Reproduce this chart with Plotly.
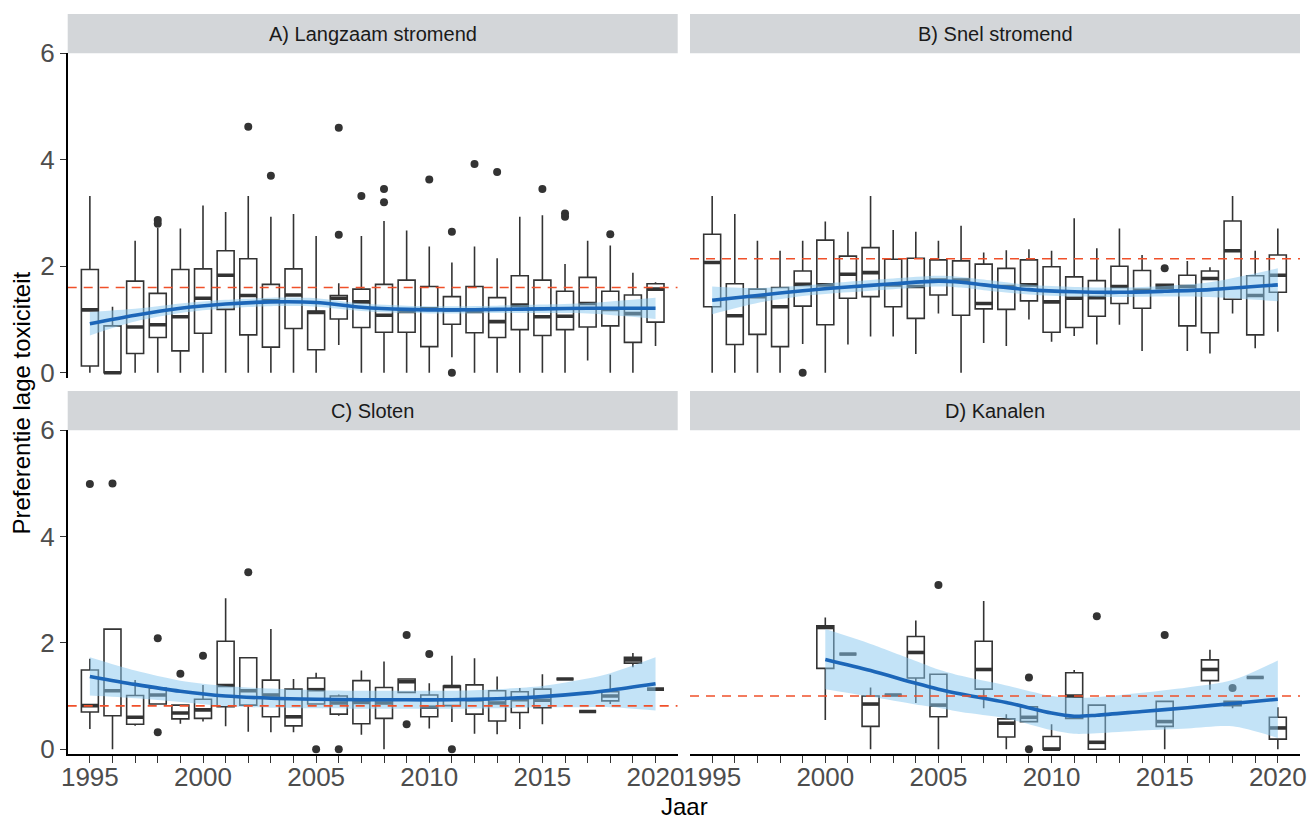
import plotly.graph_objects as go

# ---------------- data ----------------
years_all = list(range(1995, 2021))

# Panel A) Langzaam stromend
A_years = years_all
A_q1 = [0.125, 0.0, 0.36, 0.66, 0.41, 0.74, 1.19, 0.71, 0.48, 0.83, 0.43, 1.01, 0.85, 0.76, 0.76, 0.49, 0.91, 0.75, 0.66, 0.81, 0.70, 0.81, 0.86, 0.88, 0.57, 0.95]
A_med = [1.18, 0.0, 0.86, 0.90, 1.05, 1.40, 1.83, 1.45, 1.35, 1.46, 1.13, 1.40, 1.33, 1.08, 1.15, 1.20, 1.18, 1.15, 0.96, 1.27, 1.05, 1.06, 1.30, 1.19, 1.11, 1.57]
A_q3 = [1.94, 0.88, 1.72, 1.49, 1.94, 1.95, 2.29, 2.14, 1.66, 1.95, 1.16, 1.45, 1.57, 1.66, 1.74, 1.62, 1.43, 1.62, 1.41, 1.82, 1.74, 1.53, 1.79, 1.53, 1.46, 1.67]
A_lo = [0, 0, 0, 0, 0, 0, 0, 0, 0, 0, 0, 0.52, 0, 0, 0, 0, 0.29, 0, 0, 0, 0, 0, 0.23, 0, 0, 0.50]
A_hi = [3.32, 1.24, 2.48, 2.72, 2.71, 3.14, 3.02, 3.32, 2.93, 2.98, 2.57, 1.68, 2.57, 2.85, 2.67, 2.37, 2.07, 2.37, 2.15, 2.93, 2.96, 2.04, 2.48, 2.39, 1.88, 1.70]
A_out_x = [1998, 1998, 2002, 2003, 2006, 2006, 2007, 2008, 2008, 2010, 2011, 2011, 2012, 2013, 2015, 2016, 2016, 2018]
A_out_y = [2.87, 2.80, 4.62, 3.70, 4.60, 2.59, 3.32, 3.45, 3.20, 3.63, 2.65, 0.0, 3.92, 3.77, 3.45, 2.99, 2.93, 2.60]
A_sm_x = [1995, 1997, 1999, 2001, 2003, 2005, 2007, 2009, 2011, 2013, 2015, 2017, 2020]
A_sm_fit = [0.92, 1.08, 1.21, 1.29, 1.33, 1.32, 1.23, 1.19, 1.18, 1.19, 1.20, 1.21, 1.21]
A_sm_lo = [0.70, 0.96, 1.12, 1.21, 1.25, 1.24, 1.16, 1.12, 1.11, 1.12, 1.12, 1.11, 1.01]
A_sm_hi = [1.14, 1.20, 1.30, 1.37, 1.41, 1.40, 1.30, 1.26, 1.25, 1.26, 1.28, 1.31, 1.41]
A_ref = 1.60

# Panel B) Snel stromend
B_years = years_all
B_q1 = [1.24, 0.53, 0.72, 0.49, 1.25, 0.90, 1.40, 1.43, 1.24, 1.02, 1.46, 1.08, 1.20, 1.19, 1.35, 0.76, 0.85, 1.06, 1.30, 1.21, 1.58, 0.88, 0.75, 1.38, 0.71, 1.51]
B_med = [2.07, 1.07, 1.43, 1.24, 1.66, 1.65, 1.85, 1.88, 1.65, 1.62, 1.74, 1.74, 1.30, 1.62, 1.65, 1.33, 1.40, 1.41, 1.62, 1.55, 1.62, 1.62, 1.77, 2.29, 1.45, 1.83]
B_q3 = [2.60, 1.67, 1.57, 1.60, 1.91, 2.49, 2.19, 2.35, 2.13, 2.15, 2.12, 2.10, 2.04, 1.96, 2.12, 1.99, 1.80, 1.73, 2.00, 1.92, 1.66, 1.83, 1.91, 2.85, 1.82, 2.21]
B_lo = [0, 0, 0, 0, 0.54, 0, 0.53, 0.68, 0.68, 0.35, 1.11, 0, 0.56, 0.50, 1.0, 0.58, 0.69, 0.53, 0.90, 0.41, 1.58, 0.41, 0.36, 1.11, 0.46, 0.77]
B_hi = [3.32, 2.98, 2.48, 2.29, 2.48, 2.84, 2.65, 3.32, 2.68, 2.65, 2.48, 2.76, 2.26, 2.30, 2.32, 2.29, 2.90, 2.34, 2.71, 2.21, 1.66, 2.10, 1.98, 3.32, 2.29, 2.71]
B_out_x = [1999, 2015]
B_out_y = [0.0, 1.96]
B_sm_x = [1995, 1997, 1999, 2001, 2003, 2005, 2006, 2007, 2009, 2011, 2013, 2015, 2017, 2020]
B_sm_fit = [1.36, 1.45, 1.54, 1.61, 1.67, 1.72, 1.70, 1.65, 1.56, 1.52, 1.51, 1.53, 1.56, 1.65]
B_sm_lo = [1.10, 1.31, 1.44, 1.51, 1.57, 1.62, 1.60, 1.55, 1.47, 1.43, 1.42, 1.43, 1.42, 1.34]
B_sm_hi = [1.62, 1.59, 1.64, 1.71, 1.77, 1.82, 1.80, 1.75, 1.65, 1.61, 1.60, 1.63, 1.70, 1.96]
B_ref = 2.14

# Panel C) Sloten
C_years = years_all
C_q1 = [0.70, 0.63, 0.47, 0.85, 0.57, 0.58, 0.80, 0.83, 0.61, 0.44, 0.85, 0.66, 0.48, 0.58, 1.07, 0.61, 0.82, 0.66, 0.53, 0.69, 0.78, 1.32, 0.71, 0.91, 1.62, 1.13]
C_med = [0.82, 1.10, 0.60, 1.02, 0.68, 0.74, 1.20, 1.10, 1.02, 0.61, 1.12, 0.87, 0.88, 0.87, 1.27, 0.79, 1.18, 0.93, 0.87, 0.93, 0.92, 1.32, 0.71, 1.00, 1.68, 1.13]
C_q3 = [1.49, 2.26, 1.01, 1.15, 0.83, 0.94, 2.03, 1.72, 1.30, 1.13, 1.34, 1.00, 1.29, 1.16, 1.32, 1.02, 1.19, 1.21, 1.10, 1.08, 1.13, 1.32, 0.71, 1.08, 1.73, 1.13]
C_lo = [0.38, 0.0, 0.44, 0.85, 0.48, 0.52, 0.43, 0.33, 0.32, 0.32, 0.85, 0.63, 0.27, 0.0, 1.07, 0.39, 0.51, 0.29, 0.28, 0.38, 0.47, 1.32, 0.71, 0.85, 1.54, 1.13]
C_hi = [1.70, 2.26, 1.30, 1.15, 0.83, 1.21, 2.84, 1.72, 2.26, 1.32, 1.44, 1.03, 1.48, 1.65, 1.32, 1.24, 1.76, 1.71, 1.37, 1.15, 1.41, 1.32, 0.71, 1.40, 1.81, 1.13]
C_out_x = [1995, 1996, 1998, 1998, 1999, 2000, 2002, 2005, 2006, 2009, 2009, 2010, 2011]
C_out_y = [4.99, 5.0, 2.09, 0.32, 1.42, 1.76, 3.33, 0.0, 0.0, 2.15, 0.47, 1.79, 0.0]
C_sm_x = [1995, 1997, 1999, 2001, 2003, 2005, 2007, 2009, 2011, 2013, 2015, 2017, 2018, 2020]
C_sm_fit = [1.37, 1.22, 1.09, 1.00, 0.96, 0.94, 0.93, 0.93, 0.93, 0.95, 0.99, 1.06, 1.11, 1.23]
C_sm_lo = [1.01, 0.96, 0.89, 0.81, 0.78, 0.77, 0.76, 0.76, 0.76, 0.77, 0.79, 0.79, 0.79, 0.73]
C_sm_hi = [1.73, 1.48, 1.29, 1.19, 1.14, 1.11, 1.10, 1.10, 1.10, 1.13, 1.19, 1.33, 1.43, 1.73]
C_ref = 0.815

# Panel D) Kanalen
D_years = [2000, 2001, 2002, 2003, 2004, 2005, 2007, 2008, 2009, 2010, 2011, 2012, 2015, 2017, 2018, 2019, 2020]
D_q1 = [1.52, 1.79, 0.43, 1.02, 1.34, 0.61, 1.13, 0.23, 0.52, 0.0, 0.58, 0.0, 0.43, 1.29, 0.82, 1.35, 0.19]
D_med = [2.29, 1.79, 0.85, 1.02, 1.82, 0.83, 1.50, 0.49, 0.60, 0.0, 1.00, 0.13, 0.52, 1.50, 0.86, 1.35, 0.40]
D_q3 = [2.32, 1.79, 1.00, 1.02, 2.12, 1.41, 2.03, 0.57, 0.80, 0.24, 1.44, 0.83, 0.90, 1.68, 0.90, 1.35, 0.60]
D_lo = [0.55, 1.79, 0.0, 1.02, 0.87, 0.0, 0.77, 0.0, 0.52, 0.0, 0.58, 0.0, 0.0, 1.12, 0.77, 1.35, 0.0]
D_hi = [2.48, 1.79, 1.16, 1.02, 2.42, 1.41, 2.79, 0.66, 0.80, 0.47, 1.49, 0.83, 0.90, 1.87, 0.90, 1.35, 0.79]
D_out_x = [2005, 2009, 2009, 2012, 2015, 2018]
D_out_y = [3.09, 1.35, 0.0, 2.50, 2.15, 1.15]
D_sm_x = [2000, 2002, 2004, 2005, 2006, 2008, 2010, 2011, 2012, 2014, 2016, 2018, 2020]
D_sm_fit = [1.69, 1.48, 1.24, 1.13, 1.04, 0.88, 0.68, 0.62, 0.64, 0.71, 0.78, 0.86, 0.94]
D_sm_lo = [1.13, 0.99, 0.84, 0.78, 0.70, 0.58, 0.36, 0.29, 0.30, 0.35, 0.39, 0.43, 0.21]
D_sm_hi = [2.26, 1.98, 1.66, 1.50, 1.38, 1.20, 1.00, 0.97, 0.98, 1.06, 1.16, 1.30, 1.67]
D_ref = 1.0

titles = ["A) Langzaam stromend", "B) Snel stromend", "C) Sloten", "D) Kanalen"]
tick_years = list(range(1995, 2021))
tick_text = [str(y) if y % 5 == 0 else "" for y in tick_years]
y_ticks = [0, 2, 4, 6]

# ---------------- style ----------------
W, H = 1309, 820
BOX_W = 0.75
BOX_LINE = "#333333"
SMOOTH_COL = "#1c66b8"
RIBBON_COL = "rgba(135,200,240,0.5)"
REF_COL = "#f0502a"
FONT = "Liberation Sans, Arial, sans-serif"

xdom = [[67.7 / W, 677.7 / W], [690 / W, 1300 / W]]
ydom_top = [1 - 377.5 / H, 1 - 53.3 / H]
ydom_bot = [1 - 754 / H, 1 - 430.3 / H]
XR = [1994.02, 2020.98]
YR = [-0.09, 6.0]

panels = [
    (A_years, A_q1, A_med, A_q3, A_lo, A_hi, A_out_x, A_out_y, A_sm_x, A_sm_fit, A_sm_lo, A_sm_hi, A_ref),
    (B_years, B_q1, B_med, B_q3, B_lo, B_hi, B_out_x, B_out_y, B_sm_x, B_sm_fit, B_sm_lo, B_sm_hi, B_ref),
    (C_years, C_q1, C_med, C_q3, C_lo, C_hi, C_out_x, C_out_y, C_sm_x, C_sm_fit, C_sm_lo, C_sm_hi, C_ref),
    (D_years, D_q1, D_med, D_q3, D_lo, D_hi, D_out_x, D_out_y, D_sm_x, D_sm_fit, D_sm_lo, D_sm_hi, D_ref),
]

fig = go.Figure()

for i, (yrs, q1, med, q3, lo, hi, ox, oy, sx, sfit, slo, shi, ref) in enumerate(panels):
    n = i + 1
    xa = "x" if n == 1 else f"x{n}"
    ya = "y" if n == 1 else f"y{n}"
    # boxes
    fig.add_trace(go.Box(
        x=yrs, q1=q1, median=med, q3=q3, lowerfence=lo, upperfence=hi,
        width=BOX_W, whiskerwidth=0, boxpoints=False,
        fillcolor="white", line=dict(color=BOX_LINE, width=1.6),
        xaxis=xa, yaxis=ya, showlegend=False, hoverinfo="skip"))
    # thick medians
    mx, my = [], []
    for yr, m in zip(yrs, med):
        mx += [yr - BOX_W / 2, yr + BOX_W / 2, None]
        my += [m, m, None]
    fig.add_trace(go.Scatter(x=mx, y=my, mode="lines",
                             line=dict(color=BOX_LINE, width=3.6),
                             xaxis=xa, yaxis=ya, showlegend=False, hoverinfo="skip"))
    # outliers
    fig.add_trace(go.Scatter(x=ox, y=oy, mode="markers",
                             marker=dict(color=BOX_LINE, size=8),
                             xaxis=xa, yaxis=ya, showlegend=False, hoverinfo="skip"))
    # ribbon (lower bound, then upper filled to it)
    fig.add_trace(go.Scatter(x=sx, y=slo, mode="lines",
                             line=dict(width=0, color="rgba(0,0,0,0)", shape="spline", smoothing=0.8),
                             xaxis=xa, yaxis=ya, showlegend=False, hoverinfo="skip"))
    fig.add_trace(go.Scatter(x=sx, y=shi, mode="lines", fill="tonexty", fillcolor=RIBBON_COL,
                             line=dict(width=0, color="rgba(0,0,0,0)", shape="spline", smoothing=0.8),
                             xaxis=xa, yaxis=ya, showlegend=False, hoverinfo="skip"))
    # smooth line
    fig.add_trace(go.Scatter(x=sx, y=sfit, mode="lines",
                             line=dict(color=SMOOTH_COL, width=3.6, shape="spline", smoothing=0.8),
                             xaxis=xa, yaxis=ya, showlegend=False, hoverinfo="skip"))
    # reference line
    fig.add_trace(go.Scatter(x=XR, y=[ref, ref], mode="lines",
                             line=dict(color=REF_COL, width=1.6, dash="9px,7px"),
                             xaxis=xa, yaxis=ya, showlegend=False, hoverinfo="skip"))

layout = dict(
    width=W, height=H, margin=dict(l=0, r=0, t=0, b=0, autoexpand=False),
    paper_bgcolor="white", plot_bgcolor="white",
    font=dict(family=FONT, color="#1a1a1a"),
    showlegend=False,
)

tickfont = dict(family=FONT, size=26, color="#4d4d4d")
for n in range(1, 5):
    col = (n - 1) % 2
    row = (n - 1) // 2
    xname = "xaxis" if n == 1 else f"xaxis{n}"
    yname = "yaxis" if n == 1 else f"yaxis{n}"
    xa = "x" if n == 1 else f"x{n}"
    ya = "y" if n == 1 else f"y{n}"
    bottom = row == 1
    left = col == 0
    layout[xname] = dict(
        domain=xdom[col], anchor=ya, range=XR, showgrid=False, zeroline=False,
        showline=bottom, linecolor="black", linewidth=1.6,
        ticks="outside" if bottom else "", ticklen=7, tickwidth=1.4, tickcolor="#333333",
        tickmode="array", tickvals=tick_years, ticktext=tick_text,
        showticklabels=bottom, tickfont=tickfont, automargin=False,
        ticklabelstandoff=-8)
    layout[yname] = dict(
        domain=ydom_top if row == 0 else ydom_bot, anchor=xa, range=YR,
        showgrid=False, zeroline=False,
        showline=left, linecolor="black", linewidth=1.6,
        ticks="outside" if left else "", ticklen=6, tickwidth=1.4, tickcolor="#333333",
        tickmode="array", tickvals=y_ticks, showticklabels=left, tickfont=tickfont,
        automargin=False)

fig.update_layout(**layout)

# strips
strip_rows = [(1 - 53.3 / H, 1 - 14 / H), (1 - 430.3 / H, 1 - 391 / H)]
for n in range(4):
    col = n % 2
    row = n // 2
    y0, y1 = strip_rows[row]
    fig.add_shape(type="rect", xref="paper", yref="paper",
                  x0=xdom[col][0], x1=xdom[col][1], y0=y0, y1=y1,
                  fillcolor="#d3d6d9", line=dict(width=0), layer="below")
    fig.add_annotation(text=titles[n], xref="paper", yref="paper",
                       x=(xdom[col][0] + xdom[col][1]) / 2, y=(y0 + y1) / 2,
                       showarrow=False, xanchor="center", yanchor="middle",
                       font=dict(family=FONT, size=20, color="#1a1a1a"))

# axis titles
fig.add_annotation(text="Jaar", xref="paper", yref="paper", x=684 / W, y=1 - 806 / H,
                   showarrow=False, xanchor="center", yanchor="middle",
                   font=dict(family=FONT, size=24, color="black"))
fig.add_annotation(text="Preferentie lage toxiciteit", xref="paper", yref="paper",
                   x=22 / W, y=1 - 403.6 / H, textangle=-90,
                   showarrow=False, xanchor="center", yanchor="middle",
                   font=dict(family=FONT, size=24, color="black"))

fig.write_html("out.html", config={"displayModeBar": False},
               post_script="document.body.style.margin='0px';document.body.style.overflow='hidden';")
